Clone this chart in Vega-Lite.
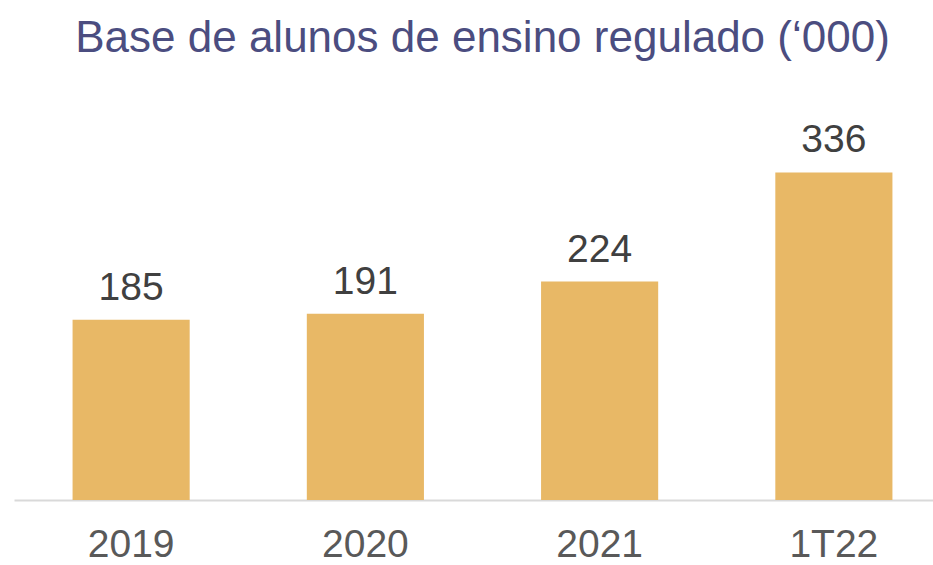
{
  "$schema": "https://vega.github.io/schema/vega-lite/v6.json",
  "autosize": {"type": "none"},
  "width": 937,
  "height": 351,
  "padding": {"left": 14, "top": 149, "right": 0, "bottom": 65},
  "background": "white",
  "config": {"view": {"stroke": null}, "font": "Liberation Sans"},
  "title": {
    "text": "Base de alunos de ensino regulado (‘000)",
    "font": "Liberation Sans",
    "fontSize": 44,
    "fontWeight": "normal",
    "color": "#4b4d80",
    "anchor": "middle",
    "offset": 60
  },
  "data": {
    "values": [
      {"periodo": "2019", "alunos": 185},
      {"periodo": "2020", "alunos": 191},
      {"periodo": "2021", "alunos": 224},
      {"periodo": "1T22", "alunos": 336}
    ]
  },
  "encoding": {
    "x": {
      "field": "periodo",
      "type": "nominal",
      "sort": null,
      "scale": {"paddingInner": 0.5, "paddingOuter": 0.25},
      "axis": {
        "title": null,
        "labelAngle": 0,
        "ticks": false,
        "labelFont": "Liberation Sans",
        "labelFontSize": 39,
        "labelColor": "#595959",
        "labelBaseline": "alphabetic",
        "labelPadding": 56,
        "domainColor": "#d9d9d9",
        "domainWidth": 2
      }
    },
    "y": {
      "field": "alunos",
      "type": "quantitative",
      "scale": {"domain": [0, 360]},
      "axis": null
    }
  },
  "layer": [
    {"mark": {"type": "bar", "color": "#e8b866"}},
    {
      "mark": {
        "type": "text",
        "baseline": "alphabetic",
        "dy": -20,
        "font": "Liberation Sans",
        "fontSize": 39,
        "color": "#404040"
      },
      "encoding": {"text": {"field": "alunos", "type": "quantitative"}}
    }
  ]
}
